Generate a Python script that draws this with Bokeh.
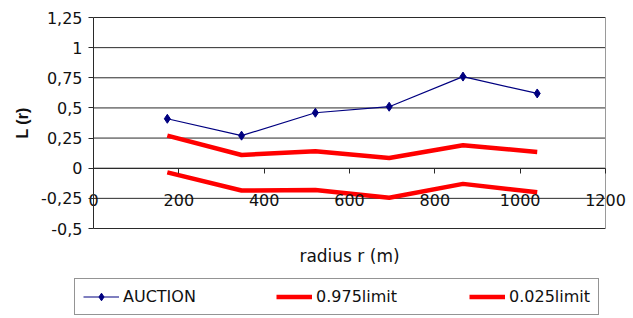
from bokeh.plotting import figure
from bokeh.models import Range1d, FixedTicker, Legend, LegendItem
from bokeh.embed import file_html
from bokeh.resources import INLINE

radius = [173, 347, 520, 693, 866, 1040]
auction = [0.41, 0.27, 0.46, 0.51, 0.76, 0.62]
limit_975 = [0.27, 0.11, 0.14, 0.085, 0.19, 0.135]
limit_025 = [-0.035, -0.185, -0.18, -0.245, -0.13, -0.20]

y_ticks = [-0.5, -0.25, 0, 0.25, 0.5, 0.75, 1, 1.25]
y_tick_labels = ["-0,5", "-0,25", "0", "0,25", "0,5", "0,75", "1", "1,25"]
x_ticks = [0, 200, 400, 600, 800, 1000, 1200]

W, H = 633, 318
# plot-area placement in pixels (frame covers the whole canvas so texts are never clipped)
PL, PR, PT, PB = 93, 605, 17, 228
x0, x1 = x_ticks[0], x_ticks[-1]
y0, y1 = y_ticks[0], y_ticks[-1]
xs = (x1 - x0) / (PR - PL)
ys = (y1 - y0) / (PB - PT)
x_range = Range1d(x0 - PL * xs, x1 + (W - PR) * xs)
y_range = Range1d(y0 - (H - PB) * ys, y1 + PT * ys)

TICK_FONT = "DejaVu Sans"
TITLE_FONT = "Liberation Sans"
TXT = "#111111"
DARK = "#2a2a2a"

p = figure(width=W, height=H, output_backend="svg", toolbar_location=None,
           x_range=x_range, y_range=y_range,
           min_border_left=0, min_border_right=0, min_border_top=0, min_border_bottom=0)
p.outline_line_alpha = 0
p.xgrid.visible = False
p.ygrid.visible = False

# gridlines and plot-area border
p.segment(x0=[x0] * len(y_ticks), x1=[x1] * len(y_ticks), y0=y_ticks, y1=y_ticks,
          line_color=DARK, line_width=1)
p.segment(x0=[x1], x1=[x1], y0=[y0], y1=[y1], line_color="#9a9a9a", line_width=1)

# y axis at x = 0
p.yaxis.fixed_location = 0
p.yaxis.bounds = (y0, y1)
p.yaxis.ticker = FixedTicker(ticks=y_ticks)
p.yaxis.major_label_overrides = {t: l for t, l in zip(y_ticks, y_tick_labels)}
p.yaxis.major_label_text_font = TICK_FONT
p.yaxis.major_label_text_font_size = "16px"
p.yaxis.major_label_text_color = TXT
p.yaxis.major_tick_out = 5
p.yaxis.major_tick_in = 0
p.yaxis.minor_tick_out = 0
p.yaxis.minor_tick_in = 0
p.yaxis.major_label_standoff = 6
p.yaxis.axis_line_color = DARK
p.yaxis.major_tick_line_color = DARK
p.yaxis.axis_label = "L (r)"
p.yaxis.axis_label_text_font = TITLE_FONT
p.yaxis.axis_label_text_font_style = "bold"
p.yaxis.axis_label_text_font_size = "16px"
p.yaxis.axis_label_text_color = TXT
p.yaxis.axis_label_standoff = 7

# x axis crossing at y = 0
p.xaxis.fixed_location = 0
p.xaxis.bounds = (x0, x1)
p.xaxis.ticker = FixedTicker(ticks=x_ticks)
p.xaxis.major_label_text_font = TICK_FONT
p.xaxis.major_label_text_font_size = "16px"
p.xaxis.major_label_text_color = TXT
p.xaxis.major_tick_out = 5
p.xaxis.major_tick_in = 0
p.xaxis.minor_tick_out = 0
p.xaxis.minor_tick_in = 0
p.xaxis.major_label_standoff = 21
p.xaxis.axis_line_color = DARK
p.xaxis.major_tick_line_color = DARK
p.xaxis.axis_label = "radius r (m)"
p.xaxis.axis_label_text_font = TICK_FONT
p.xaxis.axis_label_text_font_style = "normal"
p.xaxis.axis_label_text_font_size = "17px"
p.xaxis.axis_label_text_color = TXT
p.xaxis.axis_label_standoff = 36

# series
r975 = p.line(radius, limit_975, line_color="#ff0000", line_width=4.5)
r025 = p.line(radius, limit_025, line_color="#ff0000", line_width=4.5)
ra = p.line(radius, auction, line_color="#000080", line_width=1.2)
rm = p.scatter(radius, auction, marker="diamond", size=9, fill_color="#000080", line_color="#000080")

legend = Legend(items=[
    LegendItem(label="AUCTION", renderers=[ra, rm]),
    LegendItem(label="0.975limit", renderers=[r975]),
    LegendItem(label="0.025limit", renderers=[r025]),
], orientation="horizontal", location=(74, 3))
legend.label_text_font = TICK_FONT
legend.label_text_font_size = "16px"
legend.label_text_color = TXT
legend.glyph_width = 36
legend.glyph_height = 19
legend.label_height = 19
legend.label_standoff = 4
legend.label_width = 81
legend.spacing = 72
legend.padding = 8
legend.margin = 0
legend.border_line_color = DARK
legend.border_line_width = 1
legend.background_fill_alpha = 1
p.add_layout(legend, "center")

open("out.html", "w").write(file_html(p, INLINE))
